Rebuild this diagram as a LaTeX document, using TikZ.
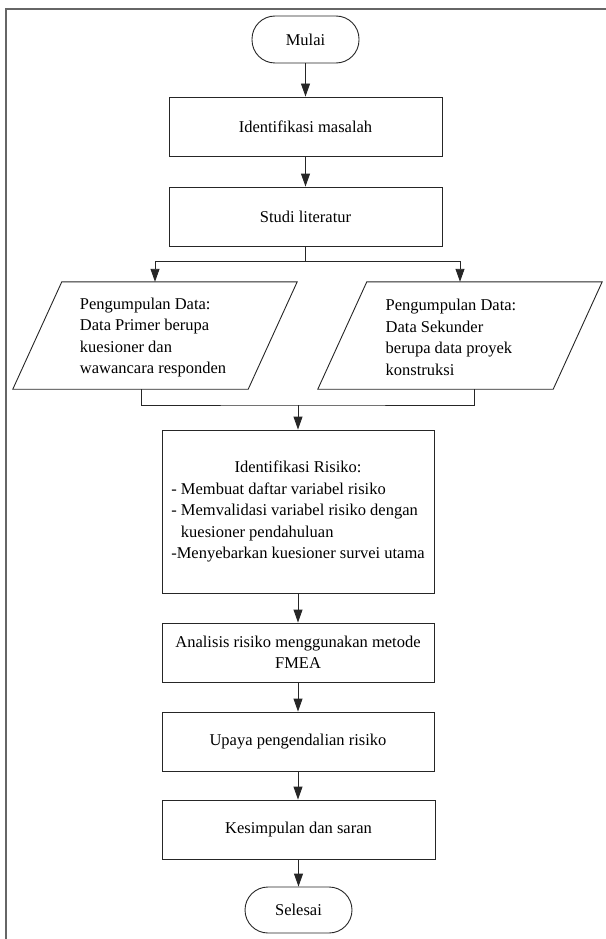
\documentclass[tikz,border=0pt]{standalone}
\usepackage{fontspec}
\setmainfont{Liberation Serif}
\usetikzlibrary{arrows.meta}
\newsavebox\longlinebox
\begin{document}
\begin{tikzpicture}[x=1pt,y=-1pt,
  font=\fontsize{16.5}{21.5}\selectfont,
  shapeline/.style={draw=black!85, line width=0.9pt},
  box/.style={shapeline, minimum width=273pt, minimum height=59pt, inner sep=0pt, align=center},
  term/.style={shapeline, rounded corners=23pt, minimum width=107pt, minimum height=47pt, inner sep=0pt},
  paraholder/.style={minimum width=235pt, minimum height=107pt, inner sep=0pt},
  arr/.style={draw=black!85, line width=0.9pt, -{Triangle[length=13pt,width=9pt]}},
  conn/.style={draw=black!85, line width=0.9pt},
  frame/.style={draw=black!60, line width=1.6pt}]
\useasboundingbox (0,0) rectangle (605,939);
% outer frame (cropped)
\draw[frame] (6,950) -- (6,9) -- (615,9);

\node[term] (mulai) at (305.5,39.5) {Mulai};
\node[box] (idm) at (305.5,126.5) {Identifikasi masalah};
\node[box] (studi) at (305.5,216.5) {Studi literatur};

\node[paraholder] (lp) at (155,335.5) {};
\node[paraholder] (rp) at (460,335.5) {};
\draw[shapeline] ([xshift=24.5pt]lp.north west) -- ([xshift=24.5pt]lp.north east) -- ([xshift=-24.5pt]lp.south east) -- ([xshift=-24.5pt]lp.south west) -- cycle;
\draw[shapeline] ([xshift=24.5pt]rp.north west) -- ([xshift=24.5pt]rp.north east) -- ([xshift=-24.5pt]rp.south east) -- ([xshift=-24.5pt]rp.south west) -- cycle;
\node[align=left, inner sep=0pt] (lpt) at (153,337.5) {Pengumpulan Data:\\Data Primer berupa\\kuesioner dan\\wawancara responden};
\node[align=left, inner sep=0pt] (rpt) at (451,337.5) {Pengumpulan Data:\\Data Sekunder\\berupa data proyek\\konstruksi};

\node[box, minimum width=272pt, minimum height=163pt, align=left] (risk) at (298,511.5)
  {{\sbox\longlinebox{-Menyebarkan kuesioner survei utama}\makebox[\wd\longlinebox]{Identifikasi Risiko:}}\\
   - Membuat daftar variabel risiko\\
   - Memvalidasi variabel risiko dengan\\
   \hphantom{- }kuesioner pendahuluan\\
   -Menyebarkan kuesioner survei utama};
\node[box, minimum width=272pt] (anal) at (298,652.5) {Analisis risiko menggunakan metode\\FMEA};
\node[box, minimum width=272pt] (upaya) at (298,741.5) {Upaya pengendalian risiko};
\node[box] (kes) at (298.5,829.5) {Kesimpulan dan saran};
\node[term, minimum height=46pt] (sel) at (298.5,910) {Selesai};

\coordinate (j1) at (305.5,261);
\coordinate (j2) at (298,405);

\draw[arr] (mulai) -- (idm);
\draw[arr] (idm) -- (studi);
\draw[conn] (studi.south) -- (j1);
\draw[arr] (j1) -| (lp.north);
\draw[arr] (j1) -| (rp.north);
\draw[conn] ([xshift=-14pt]lp.south) |- (j2) -| ([xshift=14pt]rp.south);
\draw[arr] (j2) -- (risk.north);
\draw[arr] (risk) -- (anal);
\draw[arr] (anal) -- (upaya);
\draw[arr] (upaya.south) -- (upaya.south |- kes.north);
\draw[arr] (kes.south) -- (kes.south |- sel.north);
\end{tikzpicture}
\end{document}
